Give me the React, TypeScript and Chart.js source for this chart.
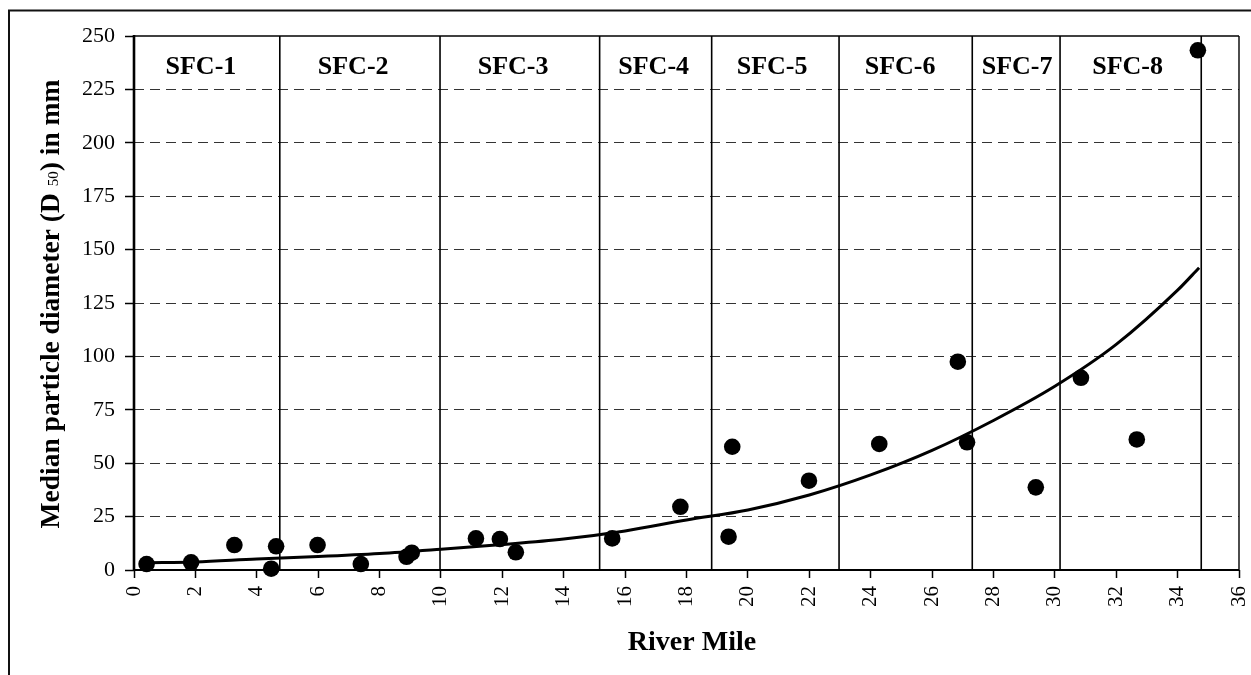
import React, { useEffect, useRef } from "react";
import { Chart, registerables } from "chart.js";

Chart.register(...registerables);

// Sample data: river mile vs. median particle diameter D50 (mm)
const riverMile = [0.41, 1.86, 3.27, 4.47, 4.63, 5.98, 7.39, 8.88, 9.05, 11.14, 11.92, 12.44, 15.58, 17.8, 19.37, 19.49, 21.99, 24.28, 26.84, 27.14, 29.38, 30.85, 32.67, 34.66];
const d50 = [2.8, 3.6, 11.7, 0.6, 11.1, 11.7, 2.8, 6.2, 8.1, 14.8, 14.5, 8.3, 14.8, 29.6, 15.6, 57.7, 41.8, 59.0, 97.5, 59.8, 38.7, 90.0, 61.1, 243.3];

// Trend line
const trendMile = [0.4, 2, 4, 6, 8, 10, 12, 14, 16, 18, 20, 22, 24, 26, 28, 30, 32, 34, 34.7];
const trendD50 = [3.4, 3.8, 5.2, 6.3, 7.7, 9.7, 11.9, 14.5, 18.3, 23.4, 28.1, 35.1, 44.5, 56.0, 70.0, 86.0, 105.6, 131.0, 141.5];

// Reach boundaries and labels
const reachBoundaries = [4.75, 9.97, 15.17, 18.82, 22.97, 27.31, 30.17, 34.77];
const reachNames = ["SFC-1", "SFC-2", "SFC-3", "SFC-4", "SFC-5", "SFC-6", "SFC-7", "SFC-8"];
const reachLabelMile = [2.18, 7.14, 12.35, 16.93, 20.79, 24.96, 28.77, 32.37];

// Axes
const xMin = 0, xMax = 36, xStep = 2;
const yMin = 0, yMax = 250, yStep = 25;

const xTitle = "River Mile";
const yTitleParts = ["Median particle diameter (D ", "50", ") in mm"];

const SERIF = '"Liberation Serif", "Times New Roman", serif';

export default function App() {
  const ref = useRef<HTMLCanvasElement>(null);

  useEffect(() => {
    const canvas = ref.current!;
    const boundaryData: { x: number; y: number | null }[] = [];
    reachBoundaries.forEach((b) => {
      boundaryData.push({ x: b, y: yMin }, { x: b, y: yMax }, { x: b, y: null });
    });

    const annot = {
      id: "annot",
      beforeDraw(chart: any) {
        const { ctx } = chart;
        ctx.save();
        ctx.fillStyle = "#fff";
        ctx.fillRect(0, 0, chart.width, chart.height);
        ctx.strokeStyle = "#111";
        ctx.lineWidth = 2;
        ctx.beginPath();
        ctx.moveTo(9, chart.height);
        ctx.lineTo(9, 10.5);
        ctx.lineTo(chart.width, 10.5);
        ctx.stroke();
        ctx.restore();
      },
      afterDraw(chart: any) {
        const { ctx, chartArea: a, scales } = chart;
        ctx.save();
        ctx.strokeStyle = "#000";
        // frame
        ctx.lineWidth = 1.6;
        ctx.beginPath();
        ctx.moveTo(a.left, a.top);
        ctx.lineTo(a.right, a.top);
        ctx.stroke();
        ctx.lineWidth = 1.4;
        ctx.beginPath();
        ctx.moveTo(a.right, a.top);
        ctx.lineTo(a.right, a.bottom);
        ctx.stroke();
        ctx.lineWidth = 2.6;
        ctx.beginPath();
        ctx.moveTo(a.left, a.top - 1);
        ctx.lineTo(a.left, a.bottom + 1);
        ctx.stroke();
        ctx.lineWidth = 2;
        ctx.beginPath();
        ctx.moveTo(a.left, a.bottom);
        ctx.lineTo(a.right, a.bottom);
        ctx.stroke();

        // reach labels
        ctx.fillStyle = "#000";
        ctx.font = `bold 26px ${SERIF}`;
        ctx.textAlign = "center";
        ctx.textBaseline = "alphabetic";
        reachNames.forEach((n, i) => {
          ctx.fillText(n, scales.x.getPixelForValue(reachLabelMile[i]), 74);
        });

        // x title
        ctx.font = `bold 28px ${SERIF}`;
        ctx.fillText(xTitle, 692, 650);

        // y title with subscript
        const big = `bold 27.5px ${SERIF}`;
        const small = `15px ${SERIF}`;
        ctx.font = big;
        const w1 = ctx.measureText(yTitleParts[0]).width;
        const w3 = ctx.measureText(yTitleParts[2]).width;
        ctx.font = small;
        const w2 = ctx.measureText(yTitleParts[1]).width;
        const total = w1 + w2 + w3;
        ctx.translate(59, 304);
        ctx.rotate(-Math.PI / 2);
        ctx.textAlign = "left";
        let x0 = -total / 2;
        ctx.font = big;
        ctx.fillText(yTitleParts[0], x0, 0);
        x0 += w1;
        ctx.font = small;
        ctx.fillText(yTitleParts[1], x0, -1);
        x0 += w2;
        ctx.font = big;
        ctx.fillText(yTitleParts[2], x0, 0);
        ctx.restore();
      },
    };

    const chart = new Chart(canvas, {
      type: "scatter",
      data: {
        datasets: [
          {
            label: "D50",
            data: riverMile.map((x, i) => ({ x, y: d50[i] })),
            pointRadius: 8.3,
            pointHoverRadius: 8.3,
            backgroundColor: "#000",
            borderColor: "#000",
            borderWidth: 0,
            showLine: false,
            clip: false as any,
            order: 1,
          },
          {
            label: "Trend",
            data: trendMile.map((x, i) => ({ x, y: trendD50[i] })),
            showLine: true,
            borderColor: "#000",
            borderWidth: 3,
            pointRadius: 0,
            cubicInterpolationMode: "monotone",
            order: 2,
          },
          {
            label: "Reaches",
            data: boundaryData as any,
            showLine: true,
            spanGaps: false,
            borderColor: "#000",
            borderWidth: 1.6,
            pointRadius: 0,
            order: 3,
          },
        ],
      },
      options: {
        responsive: false,
        animation: false,
        devicePixelRatio: 1,
        layout: { padding: { left: 0, right: 12, top: 36, bottom: 0 } },
        plugins: {
          legend: { display: false },
          tooltip: { enabled: false },
        },
        events: [],
        scales: {
          x: {
            type: "linear",
            min: xMin,
            max: xMax,
            ticks: {
              stepSize: xStep,
              autoSkip: false,
              maxRotation: 90,
              minRotation: 90,
              padding: 8,
              color: "#000",
              font: { family: SERIF, size: 21 },
            },
            grid: {
              display: true,
              drawOnChartArea: false,
              drawTicks: true,
              tickLength: 8,
              tickColor: "#000",
              tickWidth: 1.5,
            },
            border: { display: false },
            afterFit: (s: any) => {
              s.height = 105;
              s.paddingLeft = 0;
              s.paddingRight = 0;
            },
          },
          y: {
            type: "linear",
            min: yMin,
            max: yMax,
            ticks: {
              stepSize: yStep,
              padding: 10,
              color: "#000",
              font: { family: SERIF, size: 22 },
            },
            grid: {
              color: (c: any) =>
                c.tick && (c.tick.value === yMin || c.tick.value === yMax) ? "rgba(0,0,0,0)" : "#333",
              lineWidth: 1,
              tickLength: 9,
              tickColor: "#000",
              tickWidth: 1.5,
              tickBorderDash: [],
            },
            border: { display: false, dash: [10, 6] },
            afterFit: (s: any) => {
              s.width = 134;
            },
          },
        },
      } as any,
      plugins: [annot],
    });
    return () => chart.destroy();
  }, []);

  return (
    <div style={{ position: "fixed", left: 0, top: 0, width: 1251, height: 675, background: "#fff" }}>
      <canvas ref={ref} width={1251} height={675} style={{ display: "block", width: 1251, height: 675 }} />
    </div>
  );
}
